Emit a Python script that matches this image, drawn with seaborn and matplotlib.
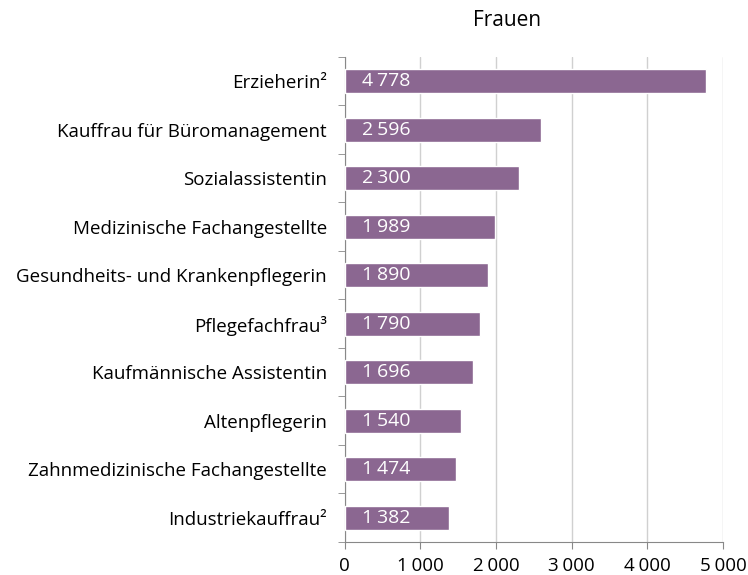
import numpy as np
import pandas as pd
import matplotlib
matplotlib.use('Agg')
import matplotlib.pyplot as plt
import seaborn as sns
from matplotlib.ticker import FixedLocator

berufe = ['Erzieherin²', 'Kauffrau für Büromanagement', 'Sozialassistentin',
          'Medizinische Fachangestellte', 'Gesundheits- und Krankenpflegerin',
          'Pflegefachfrau³', 'Kaufmännische Assistentin', 'Altenpflegerin',
          'Zahnmedizinische Fachangestellte', 'Industriekauffrau²']
anzahl = [4778, 2596, 2300, 1989, 1890, 1790, 1696, 1540, 1474, 1382]
xticks = [0, 1000, 2000, 3000, 4000, 5000]

df = pd.DataFrame({'Beruf': berufe, 'Anzahl': anzahl})

sns.set_style('white')
plt.rcParams['font.family'] = ['Open Sans', 'DejaVu Sans']
plt.rcParams['text.color'] = 'black'
plt.rcParams['xtick.labelcolor'] = 'black'
plt.rcParams['ytick.labelcolor'] = 'black'

fig = plt.figure(figsize=(7.48, 5.75), dpi=100)
ax = fig.add_axes([0.461, 0.0574, 0.5056, 0.8435])

sns.barplot(data=df, x='Anzahl', y='Beruf', color='#8b6791', width=0.5,
            saturation=1, ax=ax, zorder=3)

def fmt(v):
    return f'{v:,}'.replace(',', '\u202f')

for i, v in enumerate(anzahl):
    ax.text(225, i, fmt(v), color='white', va='center', ha='left', fontsize=14, zorder=4)

ax.set_xlim(0, 5000)
ax.set_ylim(9.5, -0.5)
ax.set_xticks(xticks)
ax.set_xticklabels([fmt(t) for t in xticks], fontsize=13.5)
ax.tick_params(axis='y', which='major', length=0, labelsize=13.5, pad=13)
ax.yaxis.set_minor_locator(FixedLocator(np.arange(-0.5, 10, 1)))
ax.tick_params(axis='y', which='minor', length=5, color='#888888', left=True)
ax.tick_params(axis='x', length=5, color='#888888', bottom=True, pad=6)
ax.grid(axis='x', color='#d0d0d0', lw=1, zorder=0)
ax.set_xlabel('')
ax.set_ylabel('')
for s in ['top', 'right']:
    ax.spines[s].set_visible(False)
for s in ['left', 'bottom']:
    ax.spines[s].set_color('#888888')

fig.text(507 / 748, 1 - 20 / 575, 'Frauen', ha='center', va='center', fontsize=15)

fig.savefig('out.png', dpi=100)
